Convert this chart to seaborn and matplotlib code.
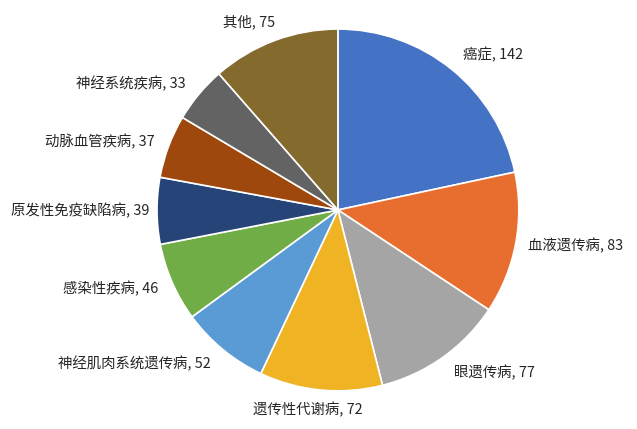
import matplotlib
matplotlib.use("Agg")
import numpy as np
import matplotlib.pyplot as plt
import seaborn as sns

categories = ["癌症", "血液遗传病", "眼遗传病", "遗传性代谢病", "神经肌肉系统遗传病",
              "感染性疾病", "原发性免疫缺陷病", "动脉血管疾病", "神经系统疾病", "其他"]
counts = [142, 83, 77, 72, 52, 46, 39, 37, 33, 75]
colors = ["#4472C4", "#E86E30", "#A5A5A5", "#F0B323", "#5B9BD5",
          "#70AD47", "#264478", "#9E480E", "#636363", "#846A2C"]

sns.set_style("white")
plt.rcParams["font.family"] = ["Noto Sans CJK SC", "DejaVu Sans"]


def main():
    fig = plt.figure(figsize=(6.37, 4.29), dpi=100)
    ax = fig.add_axes([0.2465, 0.0886, 0.568, 0.844])
    labels = [f"{c}, {v}" for c, v in zip(categories, counts)]
    wedges, texts = ax.pie(
        counts,
        labels=labels,
        colors=colors,
        startangle=90,
        counterclock=False,
        labeldistance=1.1,
        wedgeprops=dict(edgecolor="white", linewidth=1.2),
        textprops=dict(fontsize=10.4, color="#262626"),
    )
    ax.set_xlim(-1, 1)
    ax.set_ylim(-1, 1)
    ax.set_aspect("equal")

    # place labels the way Excel does: box slides sideways around the anchor point,
    # side labels sit a bit closer to the pie
    fig.canvas.draw()
    renderer = fig.canvas.get_renderer()
    inv = ax.transData.inverted()
    for w, t in zip(wedges, texts):
        ang = np.deg2rad((w.theta1 + w.theta2) / 2)
        c, s = np.cos(ang), np.sin(ang)
        bb = t.get_window_extent(renderer)
        (x0, _), (x1, _) = inv.transform([[bb.x0, bb.y0], [bb.x1, bb.y1]])
        tw = x1 - x0
        gx = np.clip(2 * c, -1, 1)
        r = 1.04 + 0.07 * np.sqrt(abs(s))
        t.set_position((r * c + tw / 2 * gx, r * s))
        t.set_ha("center")
        t.set_va("center")

    fig.savefig("out.png", dpi=100, facecolor="white")


if __name__ == "__main__":
    main()
